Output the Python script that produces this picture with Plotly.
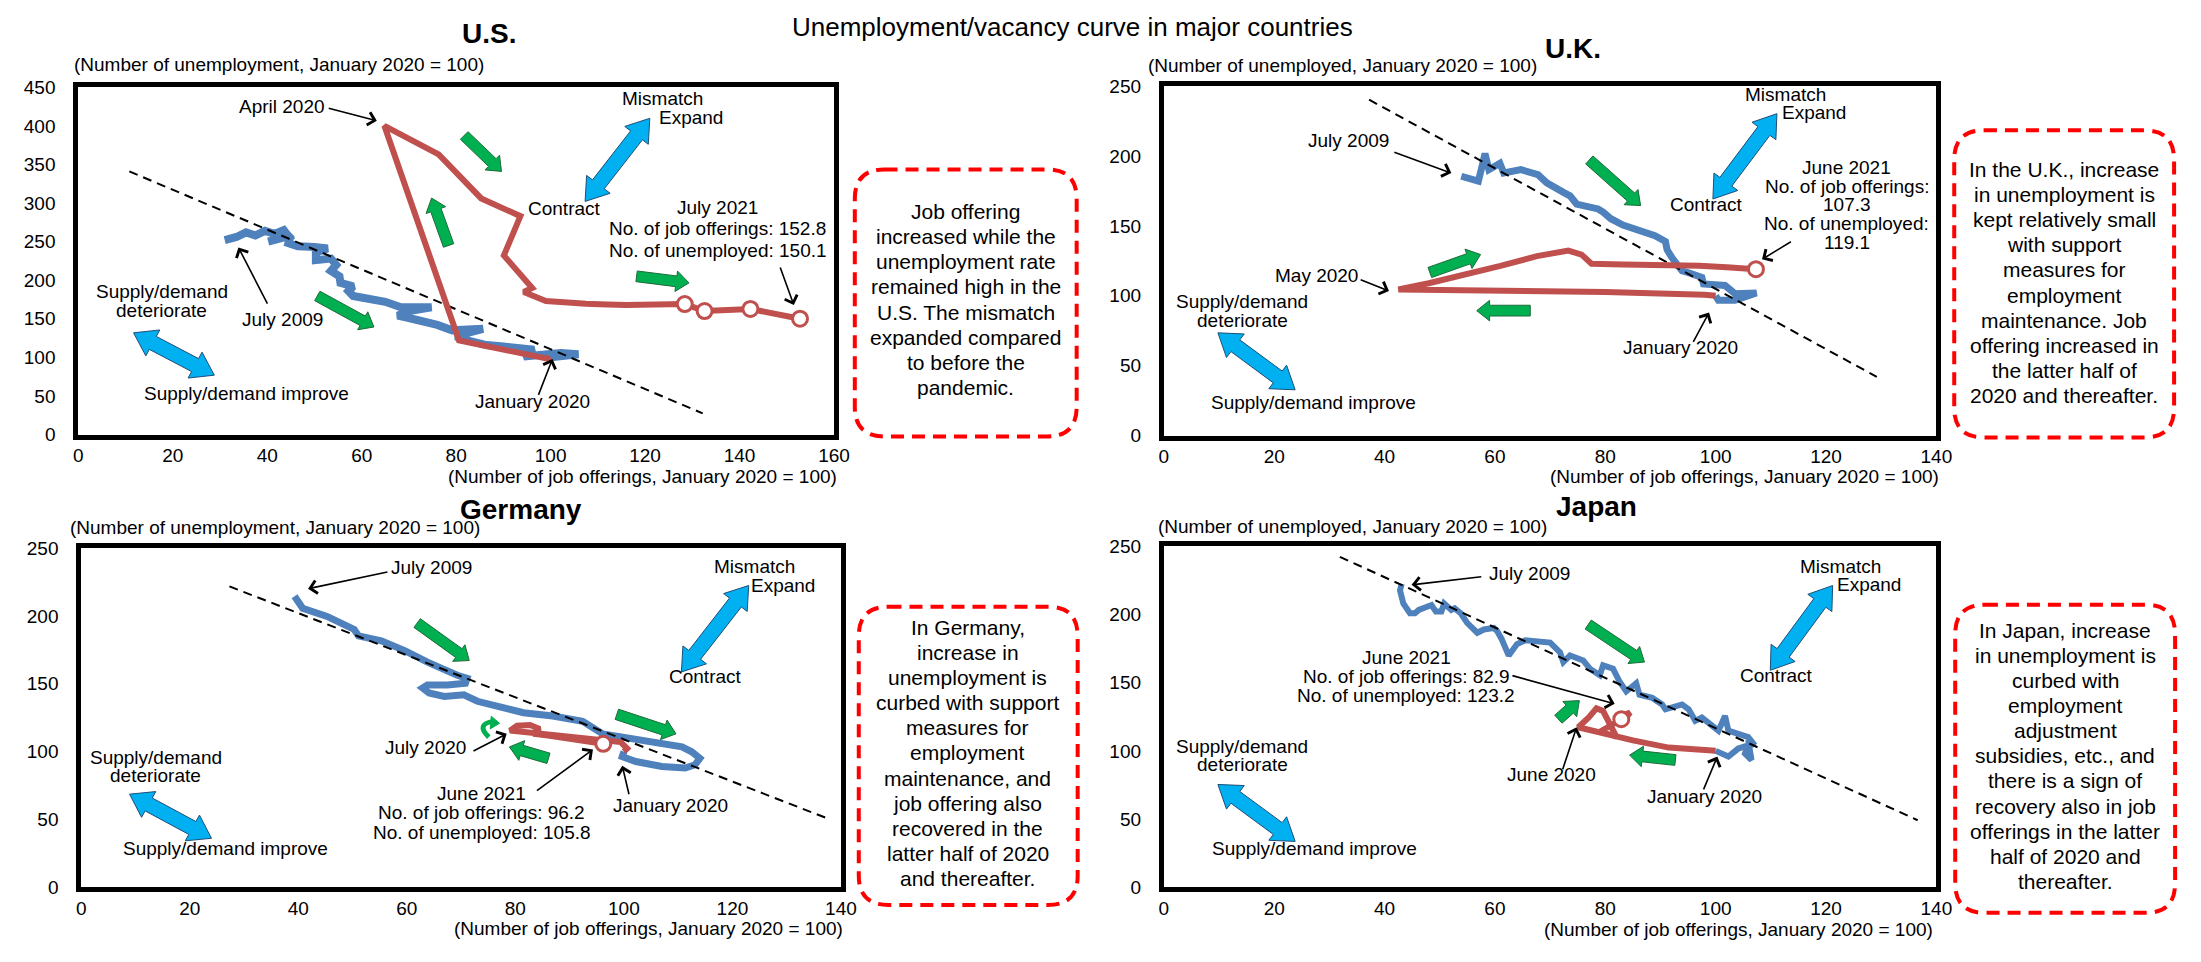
import math
import plotly.graph_objects as go

W, H = 2201, 962
FONT = "Arial, 'Liberation Sans', sans-serif"
BLUE = "#4F81BD"
RED = "#C0504D"
GREEN = "#00B050"
CYAN = "#00B0F0"
TXT_LIFT = 4  # px: centre text like the reference renderer

# ---------------- data (index, January 2020 = 100) ----------------
# x = number of job offerings, y = number of unemployed
us_blue_x = [31.0, 33.5, 35.5, 37.5, 39.5, 41.5, 43.5, 44.5, 42.0, 40.2, 42.5, 45.0, 44.5, 46.5, 50.0, 52.8, 50.3, 50.3, 53.5, 54.6,
             53.5, 55.3, 55.5, 58.2, 57.2, 58.2, 60.5, 62.6, 65.0, 68.3, 72.0, 74.8, 70.0, 67.6, 70.0, 72.7, 76.0, 79.2, 83.0, 85.7,
             82.0, 79.9, 83.0, 86.4, 90.0, 93.0, 96.5, 94.3, 98.0, 102.2, 105.9, 103.0, 100.1, 100.0]
us_blue_y = [252, 256, 262, 258, 264, 260, 265, 257, 253, 250, 256, 258, 248, 244, 243, 241, 236, 226, 228, 219.7,
             212, 205, 196.5, 192, 186, 179.6, 177, 175, 172, 165, 166, 165, 160, 154, 151, 148, 142, 135, 137, 137,
             131, 127, 121, 116, 114, 112, 110, 101, 103, 105.6, 104, 102, 99, 100]
us_red_x = [100, 99.5, 80.6, 64.8, 76.3, 85.3, 93.6, 90.1, 96.1, 94.3, 99.0, 103.0, 107.5, 112.0, 116.0, 128.4, 132.6, 142.3, 152.8]
us_red_y = [100, 98, 122, 400, 363, 306, 283, 232, 190, 184.7, 173, 171, 169.5, 168.5, 168, 169, 160, 162.7, 150.1]
us_trend_x = [10.8, 132.2]
us_trend_y = [341, 27.4]

uk_blue_x = [53.9, 57.0, 57.8, 58.2, 58.9, 60.9, 61.6, 64.7, 67.8, 69.4, 72.5, 73.6, 74.8, 78.7, 79.6, 81.0, 83.2, 86.8, 89.0, 90.9,
             91.2, 92.1, 93.9, 95.5, 97.5, 97.8, 101.7, 103.5, 107.4, 103.5, 100.5, 100.0]
uk_blue_y = [185.6, 182.1, 194.9, 201.9, 190.3, 194.9, 187.9, 190.3, 186.8, 180.9, 173.9, 171.6, 165.7, 162.2, 159.9, 155.2, 150.6, 145.9, 143.0, 138.9,
             133.0, 127.2, 117.9, 116.0, 113.2, 108.5, 107.4, 101.5, 102.0, 96.8, 96.8, 100.0]
uk_red_x = [100, 98, 80, 59, 42.5, 48, 55, 61, 67.6, 73.3, 75.7, 77.5, 83.2, 88, 92.2, 97, 102, 107.3]
uk_red_y = [100, 100.8, 102.7, 103.8, 104.6, 109, 115.5, 121.4, 128.4, 132.4, 129.5, 123, 122.5, 122.5, 122.5, 121.5, 120.5, 119.1]
uk_trend_x = [37.2, 129.2]
uk_trend_y = [240.4, 42.0]

de_blue_x = [39.3, 40.8, 45.3, 50.3, 51.1, 55.3, 59.6, 63.8, 69.3, 71.1, 70.8, 67.5, 63.8, 62.9, 64.1, 66.9, 70.5, 73.0, 76.6, 81.5,
             86.9, 92.4, 96.1, 99.7, 104.0, 110.7, 112.5, 114.0, 113.1, 111.3, 107.0, 102.2, 99.7, 100.0]
de_blue_y = [214.4, 205.6, 199.6, 190.0, 185.2, 181.6, 174.4, 165.9, 156.3, 154.0, 150.4, 149.1, 149.1, 146.8, 143.2, 140.7, 141.9, 137.1, 133.5, 128.7,
             126.3, 122.3, 113.1, 110.7, 108.3, 103.5, 99.9, 95.1, 90.3, 87.9, 89.1, 92.7, 96.3, 100.0]
de_red_x = [100, 100.6, 99.4, 93, 86, 81, 79, 80.3, 82.7, 84.5, 83.3, 86, 88, 90, 92, 94, 95.5, 96.2]
de_red_y = [100, 102.3, 107.1, 109.5, 112.5, 114.5, 115.5, 119.1, 119.6, 116.7, 113.1, 111.8, 110.8, 109.8, 108.6, 107.5, 106.6, 105.8]
de_trend_x = [27.3, 137.6]
de_trend_y = [221.7, 50.7]

jp_blue_x = [43.1, 42.8, 43.4, 44.6, 45.5, 46.2, 47.7, 48.5, 49.3, 50.3, 50.8, 52.1, 52.7, 53.8, 55.0, 56.8, 58.0, 59.8, 60.4, 61.2,
             62.5, 64.0, 65.5, 67.6, 70.0, 71.8, 72.4, 73.6, 76.0, 77.2, 79.0, 79.6, 81.4, 82.6, 83.8, 85.6, 86.2, 88.5, 90.3, 90.9,
             92.7, 93.9, 95.1, 96.3, 97.5, 99.3, 100.5, 101.7, 102.3, 104.1, 105.9, 107.1, 105.9, 106.5, 105.3, 105.9, 104.1, 102.3, 101.1, 100.0]
jp_blue_y = [222.3, 217.5, 207.9, 200.8, 200.8, 203.2, 205.6, 206.8, 202.0, 202.0, 207.9, 203.2, 204.4, 200.8, 193.6, 186.5, 188.9, 190.0, 187.7, 182.0,
             169.8, 178.2, 181.0, 180.5, 179.3, 172.1, 165.0, 169.8, 166.2, 160.2, 155.4, 162.6, 160.2, 150.6, 143.5, 149.5, 141.1, 138.8, 134.0, 130.4,
             132.7, 134.0, 130.4, 122.0, 124.4, 118.4, 114.8, 125.6, 114.8, 112.5, 110.1, 104.1, 107.7, 93.3, 98.1, 104.1, 101.7, 95.8, 98.1, 100.0]
jp_red_x = [100, 96, 91.5, 85, 80, 75.1, 77, 78.4, 79.6, 80.8, 82, 79, 81, 82.5, 84, 84.5, 83.5, 82.9]
jp_red_y = [100, 101.3, 102.4, 107.7, 112.5, 117.3, 124.5, 131.1, 129.2, 120.8, 110.5, 114, 119, 121.5, 125.5, 128, 126.5, 123.2]
jp_trend_x = [31.9, 136.6]
jp_trend_y = [242.1, 49.2]

x_ticks_us = [0, 20, 40, 60, 80, 100, 120, 140, 160]
y_ticks_us = [0, 50, 100, 150, 200, 250, 300, 350, 400, 450]
x_ticks = [0, 20, 40, 60, 80, 100, 120, 140]
y_ticks = [0, 50, 100, 150, 200, 250]

# ---------------- layout geometry ----------------
panels = {
    'us': dict(sfx='', px=(74, 837), py=(79, 434), xr=(0, 160), yr=(0, 450), xt=x_ticks_us, yt=y_ticks_us, bw=8),
    'uk': dict(sfx='2', px=(1170, 1950), py=(78, 435), xr=(0, 140), yr=(0, 250), xt=x_ticks, yt=y_ticks, bw=7),
    'de': dict(sfx='3', px=(77, 844), py=(550, 897), xr=(0, 140), yr=(0, 250), xt=x_ticks, yt=y_ticks, bw=7),
    'jp': dict(sfx='4', px=(1170, 1950), py=(548, 897), xr=(0, 140), yr=(0, 250), xt=x_ticks, yt=y_ticks, bw=6),
}

fig = go.Figure()
layout = dict(width=W, height=H, margin=dict(l=0, r=0, t=0, b=0), paper_bgcolor='white',
              plot_bgcolor='white', showlegend=False, font=dict(family=FONT, color='black'))

for key, P in panels.items():
    s = P['sfx']
    layout['xaxis' + s] = dict(domain=[P['px'][0] / W, P['px'][1] / W], range=list(P['xr']), anchor='y' + s,
                               showline=True, mirror=True, linewidth=5, linecolor='black', showgrid=False,
                               zeroline=False, tickvals=P['xt'], ticks='', ticklabelstandoff=0,
                               tickfont=dict(size=19, color='black', family=FONT), fixedrange=True)
    layout['yaxis' + s] = dict(domain=[1 - P['py'][1] / H, 1 - P['py'][0] / H], range=list(P['yr']), anchor='x' + s,
                               showline=True, mirror=True, linewidth=5, linecolor='black', showgrid=False,
                               zeroline=False, tickvals=P['yt'], ticks='', ticklabelstandoff=14,
                               tickfont=dict(size=19, color='black', family=FONT), fixedrange=True)
fig.update_layout(**layout)


def ax_ids(key):
    s = panels[key]['sfx']
    return 'x' + s, 'y' + s


def add_series(key, bx, by, rx, ry, tx, ty, n_mark):
    xa, ya = ax_ids(key)
    P = panels[key]
    fig.add_trace(go.Scatter(x=bx, y=by, mode='lines', line=dict(color=BLUE, width=P['bw']),
                             xaxis=xa, yaxis=ya, hoverinfo='skip'))
    fig.add_trace(go.Scatter(x=tx, y=ty, mode='lines', line=dict(color='black', width=2, dash='9px,6px'),
                             xaxis=xa, yaxis=ya, hoverinfo='skip'))
    fig.add_trace(go.Scatter(x=rx, y=ry, mode='lines', line=dict(color=RED, width=6),
                             xaxis=xa, yaxis=ya, hoverinfo='skip'))
    fig.add_trace(go.Scatter(x=rx[-n_mark:], y=ry[-n_mark:], mode='markers',
                             marker=dict(symbol='circle', size=15, color='white', line=dict(color=RED, width=3)),
                             xaxis=xa, yaxis=ya, hoverinfo='skip'))


add_series('us', us_blue_x, us_blue_y, us_red_x, us_red_y, us_trend_x, us_trend_y, 4)
add_series('uk', uk_blue_x, uk_blue_y, uk_red_x, uk_red_y, uk_trend_x, uk_trend_y, 1)
add_series('de', de_blue_x, de_blue_y, de_red_x, de_red_y, de_trend_x, de_trend_y, 1)
add_series('jp', jp_blue_x, jp_blue_y, jp_red_x, jp_red_y, jp_trend_x, jp_trend_y, 1)


# ---------------- helpers ----------------
def d2px(key, x, y):
    P = panels[key]
    X = P['px'][0] + (x - P['xr'][0]) / (P['xr'][1] - P['xr'][0]) * (P['px'][1] - P['px'][0])
    Y = P['py'][1] - (y - P['yr'][0]) / (P['yr'][1] - P['yr'][0]) * (P['py'][1] - P['py'][0])
    return X, Y


def pp(X, Y):
    return f"{X / W:.5f},{1 - Y / H:.5f}"


def poly_path(pts):
    return "M" + " L".join(pp(X, Y) for X, Y in pts) + " Z"


def arrow_pts(S, E, w, hw, hl, double=False):
    dx, dy = E[0] - S[0], E[1] - S[1]
    L = math.hypot(dx, dy)
    ux, uy = dx / L, dy / L
    nx, ny = -uy, ux

    def off(P, d, k):
        return (P[0] + ux * d + nx * k, P[1] + uy * d + ny * k)

    B2 = off(E, -hl, 0)
    if not double:
        return [off(S, 0, w / 2), off(B2, 0, w / 2), off(B2, 0, hw / 2), E,
                off(B2, 0, -hw / 2), off(B2, 0, -w / 2), off(S, 0, -w / 2)]
    B1 = off(S, hl, 0)
    return [S, off(B1, 0, hw / 2), off(B1, 0, w / 2), off(B2, 0, w / 2), off(B2, 0, hw / 2), E,
            off(B2, 0, -hw / 2), off(B2, 0, -w / 2), off(B1, 0, -w / 2), off(B1, 0, -hw / 2)]


def green_arrow(key, a, b):
    S, E = d2px(key, *a), d2px(key, *b)
    fig.add_shape(type='path', xref='paper', yref='paper', path=poly_path(arrow_pts(S, E, 11, 21, 13)),
                  fillcolor=GREEN, line=dict(color='#1E6B3A', width=1), layer='above')


def cyan_arrow(key, a, b):
    S, E = d2px(key, *a), d2px(key, *b)
    fig.add_shape(type='path', xref='paper', yref='paper', path=poly_path(arrow_pts(S, E, 15, 30, 22, double=True)),
                  fillcolor=CYAN, line=dict(color='#1F4E79', width=1), layer='above')


def txt(key, text, x, y, size=19, yshift=0, xanchor='center'):
    xa, ya = ax_ids(key)
    fig.add_annotation(x=x, y=y, xref=xa, yref=ya, text=text, showarrow=False, yshift=yshift + TXT_LIFT,
                       font=dict(size=size, color='black', family=FONT), xanchor=xanchor, yanchor='middle')


def block(key, lines, x, y, spacing):
    for i, t in enumerate(lines):
        txt(key, t, x, y, yshift=-i * spacing)


def pointer(key, tail, tip):
    xa, ya = ax_ids(key)
    fig.add_annotation(x=tip[0], y=tip[1], ax=tail[0], ay=tail[1], xref=xa, yref=ya, axref=xa, ayref=ya,
                       text='', showarrow=True, arrowhead=4, arrowsize=1.6, arrowwidth=1.6,
                       arrowcolor='black', standoff=0, startstandoff=0)


def ptxt(text, X, Y, size=19, xanchor='center', bold=False):
    fig.add_annotation(x=X / W, y=1 - (Y - TXT_LIFT) / H, xref='paper', yref='paper',
                       text=f"<b>{text}</b>" if bold else text,
                       showarrow=False, font=dict(size=size, color='black', family=FONT),
                       xanchor=xanchor, yanchor='middle')


def note_box(x0, y0, x1, y1, lines, cx, cy, spacing=25.7, r=30):
    p = (f"M{pp(x0 + r, y0)} L{pp(x1 - r, y0)} Q{pp(x1, y0)} {pp(x1, y0 + r)} L{pp(x1, y1 - r)} "
         f"Q{pp(x1, y1)} {pp(x1 - r, y1)} L{pp(x0 + r, y1)} Q{pp(x0, y1)} {pp(x0, y1 - r)} "
         f"L{pp(x0, y0 + r)} Q{pp(x0, y0)} {pp(x0 + r, y0)} Z")
    fig.add_shape(type='path', xref='paper', yref='paper', path=p, line=dict(color='#FF0000', width=4, dash='13px,8px'))
    for i, t in enumerate(lines):
        ptxt(t, cx, cy + i * spacing, size=21)


# ---------------- titles ----------------
ptxt("Unemployment/vacancy curve in major countries", 1078, 21, size=26)
ptxt("U.S.", 489, 28, size=28, bold=True)
ptxt("U.K.", 1583, 43, size=28, bold=True)
ptxt("Germany", 521, 515, size=28, bold=True)
ptxt("Japan", 1607, 512, size=28, bold=True)

ptxt("(Number of unemployment, January 2020 = 100)", 68, 60, xanchor='left')
ptxt("(Number of unemployed, January 2020 = 100)", 1152, 61, xanchor='left')
ptxt("(Number of unemployment, January 2020 = 100)", 64, 533, xanchor='left')
ptxt("(Number of unemployed, January 2020 = 100)", 1162, 532, xanchor='left')
ptxt("(Number of job offerings, January 2020 = 100)", 842, 481, xanchor='right')
ptxt("(Number of job offerings, January 2020 = 100)", 1955, 481, xanchor='right')
ptxt("(Number of job offerings, January 2020 = 100)", 848, 943, xanchor='right')
ptxt("(Number of job offerings, January 2020 = 100)", 1949, 944, xanchor='right')

# ---------------- U.S. annotations ----------------
txt('us', "Mismatch", 123.7, 429.7)
txt('us', "Expand", 129.7, 405.6)
txt('us', "Contract", 103.0, 288)
txt('us', "April 2020", 43.2, 420)
pointer('us', (52.7, 423.4), (63.2, 406.5))
txt('us', "July 2009", 43.2, 143.6)
pointer('us', (40.2, 167.7), (33.9, 242.5))
txt('us', "January 2020", 96.2, 37.6)
pointer('us', (97.3, 49.4), (100.4, 98))
block('us', ["July 2021", "No. of job offerings: 152.8", "No. of unemployed: 150.1"], 135.4, 289.4, 21.7)
pointer('us', (148.5, 218.4), (151.5, 167.7))
txt('us', "Supply/demand", 17.7, 179.6)
txt('us', "deteriorate", 17.7, 155.9)
txt('us', "Supply/demand improve", 35.6, 48.2)
for a, b in [((81.7, 387.5), (89.6, 341.0)), ((78.4, 245.0), (74.8, 306.4)),
             ((50.6, 179.6), (62.6, 139.4)), ((118.2, 205.0), (129.3, 196.5))]:
    green_arrow('us', a, b)
cyan_arrow('us', (107.3, 302.1), (121.0, 409.8))
cyan_arrow('us', (11.7, 131.8), (28.8, 76.9))

# ---------------- U.K. annotations ----------------
txt('uk', "Mismatch", 112.7, 241.6)
txt('uk', "Expand", 117.8, 228.3)
txt('uk', "Contract", 98.3, 162.7)
block('uk', ["June 2021", "No. of job offerings:", "107.3", "No. of unemployed:", "119.1"], 123.8, 189.1, 18.75)
pointer('uk', (113.9, 139.4), (108.4, 126.1))
txt('uk', "July 2009", 33.5, 208.5)
pointer('uk', (41.5, 203.1), (52.1, 187.9))
txt('uk', "May 2020", 27.6, 112.0)
pointer('uk', (35.4, 112.0), (40.8, 103.4))
txt('uk', "January 2020", 93.7, 60.0)
pointer('uk', (95.8, 66.0), (98.8, 88.0))
txt('uk', "Supply/demand", 14.2, 93.3)
txt('uk', "deteriorate", 14.2, 79.8)
txt('uk', "Supply/demand improve", 27.2, 21.0)
for a, b in [((77.1, 197.3), (86.4, 164.6)), ((48.2, 116.7), (57.4, 129.6)), ((66.4, 89.4), (56.7, 89.4))]:
    green_arrow('uk', a, b)
cyan_arrow('uk', (99.5, 169.3), (111.1, 230.4))
cyan_arrow('uk', (9.8, 73.5), (23.8, 32.7))

# ---------------- Germany annotations ----------------
txt('de', "Mismatch", 124.0, 233.2)
txt('de', "Expand", 129.4, 219.5)
txt('de', "Contract", 115.0, 152.3)
txt('de', "July 2009", 64.6, 232.7)
pointer('de', (56.7, 232.5), (41.8, 220.0))
txt('de', "July 2020", 63.4, 99.9)
pointer('de', (72.0, 99.9), (78.4, 113.1))
block('de', ["June 2021", "No. of job offerings: 96.2", "No. of unemployed: 105.8"], 73.8, 66.3, 19.5)
pointer('de', (83.7, 70.4), (94.3, 101.6))
txt('de', "January 2020", 108.6, 57.4)
pointer('de', (101.0, 67.5), (99.7, 89.6))
txt('de', "Supply/demand", 13.7, 92.7)
txt('de', "deteriorate", 13.7, 79.5)
txt('de', "Supply/demand improve", 26.5, 25.4)
for a, b in [((61.9, 194.7), (71.5, 167.1)), ((98.7, 127.5), (109.6, 113.1)), ((86.1, 95.1), (78.9, 103.5))]:
    green_arrow('de', a, b)
cyan_arrow('de', (110.6, 158.7), (123.0, 222.4))
cyan_arrow('de', (8.9, 68.7), (24.0, 36.2))
# small curved green arrow near July 2020
c0, c1, c2 = d2px('de', 75.1, 110.7), d2px('de', 72.6, 120.5), d2px('de', 76.0, 122.3)
fig.add_shape(type='path', xref='paper', yref='paper', path=f"M{pp(*c0)} Q{pp(*c1)} {pp(*c2)}",
              line=dict(color=GREEN, width=5))
h = arrow_pts((c2[0] - 6, c2[1] + 1), (c2[0] + 6, c2[1] + 2), 0.1, 13, 9)
fig.add_shape(type='path', xref='paper', yref='paper', path=poly_path(h), fillcolor=GREEN, line=dict(color=GREEN, width=1))

# ---------------- Japan annotations ----------------
txt('jp', "Mismatch", 122.7, 231.9)
txt('jp', "Expand", 127.8, 218.7)
txt('jp', "Contract", 111.1, 152.6)
txt('jp', "July 2009", 66.3, 227.1)
pointer('jp', (57.8, 227.6), (44.9, 221.6))
block('jp', ["June 2021", "No. of job offerings: 82.9", "No. of unemployed: 123.2"], 43.9, 165.7, 19.2)
pointer('jp', (62.9, 155.4), (81.7, 134.5))
txt('jp', "June 2020", 70.2, 79.7)
pointer('jp', (72.2, 85.5), (74.8, 117.3))
txt('jp', "January 2020", 98.0, 64.0)
pointer('jp', (97.7, 70.7), (100.3, 95.8))
txt('jp', "Supply/demand", 14.2, 100.5)
txt('jp', "deteriorate", 14.2, 86.9)
txt('jp', "Supply/demand improve", 27.3, 25.3)
for a, b in [((76.9, 192.5), (87.1, 165.0)), ((71.5, 123.2), (75.3, 136.8)), ((92.7, 93.3), (84.4, 96.9))]:
    green_arrow('jp', a, b)
cyan_arrow('jp', (109.9, 159.0), (121.2, 221.1))
cyan_arrow('jp', (9.8, 75.4), (23.8, 33.7))

# ---------------- commentary boxes ----------------
note_box(858, 163, 1082, 436,
         ["Job offering", "increased while the", "unemployment rate", "remained high in the",
          "U.S. The mismatch", "expanded compared", "to before the", "pandemic."], 970, 210)
note_box(1968, 123, 2190, 437,
         ["In the U.K., increase", "in unemployment is", "kept relatively small", "with support",
          "measures for", "employment", "maintenance. Job", "offering increased in",
          "the latter half of", "2020 and thereafter."], 2079, 167)
note_box(862, 610, 1083, 915,
         ["In Germany,", "increase in", "unemployment is", "curbed with support", "measures for",
          "employment", "maintenance, and", "job offering also", "recovered in the",
          "latter half of 2020", "and thereafter."], 972, 635)
note_box(1969, 608, 2191, 923,
         ["In Japan, increase", "in unemployment is", "curbed with", "employment", "adjustment",
          "subsidies, etc., and", "there is a sign of", "recovery also in job",
          "offerings in the latter", "half of 2020 and", "thereafter."], 2080, 638)

fig.write_html("out.html", config={'displayModeBar': False},
               post_script="document.body.style.margin='0';document.body.style.overflow='hidden';")
